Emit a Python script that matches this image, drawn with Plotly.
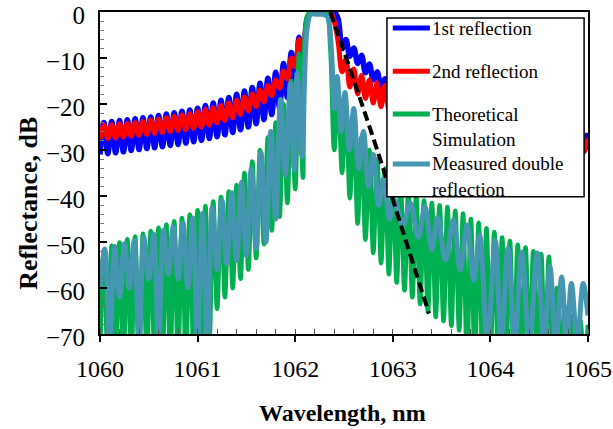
import plotly.graph_objects as go

# ---------------- data ----------------
# common wavelength sampling of the 1st / 2nd reflection and the simulation (nm)
wavelength = [
    1060.00, 1060.04, 1060.08, 1060.12, 1060.16, 1060.20, 1060.24, 1060.28, 1060.32, 1060.36,
    1060.40, 1060.44, 1060.48, 1060.52, 1060.56, 1060.60, 1060.64, 1060.68, 1060.72, 1060.76,
    1060.80, 1060.84, 1060.88, 1060.92, 1060.96, 1061.00, 1061.04, 1061.08, 1061.12, 1061.16,
    1061.20, 1061.24, 1061.28, 1061.32, 1061.36, 1061.40, 1061.44, 1061.48, 1061.52, 1061.56,
    1061.60, 1061.64, 1061.68, 1061.72, 1061.76, 1061.80, 1061.84, 1061.88, 1061.92, 1061.96,
    1062.00, 1062.04, 1062.08, 1062.12, 1062.16, 1062.20, 1062.24, 1062.28, 1062.32, 1062.36,
    1062.40, 1062.44, 1062.48, 1062.52, 1062.56, 1062.60, 1062.64, 1062.68, 1062.72, 1062.76,
    1062.80, 1062.84, 1062.88, 1062.92, 1062.96, 1063.00, 1063.04, 1063.08, 1063.12, 1063.16,
    1063.20, 1063.24, 1063.28, 1063.32, 1063.36, 1063.40, 1063.44, 1063.48, 1063.52, 1063.56,
    1063.60, 1063.64, 1063.68, 1063.72, 1063.76, 1063.80, 1063.84, 1063.88, 1063.92, 1063.96,
    1064.00, 1064.04, 1064.08, 1064.12, 1064.16, 1064.20, 1064.24, 1064.28, 1064.32, 1064.36,
    1064.40, 1064.44, 1064.48, 1064.52, 1064.56, 1064.60, 1064.64, 1064.68, 1064.72, 1064.76,
    1064.80, 1064.84, 1064.88, 1064.92, 1064.96, 1065.00,
]

first_reflection = [
    -31.0, -24.0, -30.8, -23.8, -30.6, -23.6, -30.4, -23.4, -30.1, -23.2,
    -29.9, -23.0, -29.7, -22.8, -29.5, -22.5, -29.3, -22.2, -29.0, -21.9,
    -28.8, -21.6, -28.5, -21.3, -28.2, -20.9, -27.9, -20.3, -27.5, -19.8,
    -27.1, -19.2, -26.7, -18.6, -26.2, -17.9, -25.6, -17.2, -25.0, -16.4,
    -24.3, -15.5, -23.4, -14.4, -22.3, -13.1, -20.8, -11.2, -18.6, -8.8,
    -15.6, -5.5, -11.5, -2.0, 0.0, 0.0, 0.0, 0.0, 0.0, 0.0,
    0.0, -1.5, -8.0, -6.0, -9.6, -7.8, -11.2, -9.4, -13.2, -11.3,
    -14.8, -13.0, -16.4, -14.5, -17.6, -15.6, -18.6, -16.5, -19.5, -17.3,
    -20.3, -18.0, -21.0, -18.6, -21.7, -19.2, -22.3, -19.8, -22.9, -20.3,
    -23.4, -20.8, -23.9, -21.3, -24.4, -21.8, -24.8, -22.2, -25.2, -22.6,
    -25.6, -23.0, -26.0, -23.4, -26.4, -23.8, -26.8, -24.2, -27.1, -24.5,
    -27.4, -24.8, -27.7, -25.1, -28.0, -25.4, -28.3, -25.7, -28.6, -25.9,
    -28.8, -26.1, -29.0, -26.3, -29.3, -26.3,
]

second_reflection = [
    -27.6, -24.6, -27.5, -24.5, -27.4, -24.3, -27.2, -24.2, -27.0, -24.0,
    -26.8, -23.8, -26.6, -23.5, -26.4, -23.3, -26.2, -23.0, -26.0, -22.7,
    -25.8, -22.4, -25.6, -22.1, -25.3, -21.7, -25.0, -21.2, -24.6, -20.8,
    -24.1, -20.3, -23.6, -19.8, -23.0, -19.2, -22.3, -18.5, -21.5, -17.8,
    -20.6, -17.0, -19.5, -16.0, -18.2, -14.8, -16.6, -12.8, -14.6, -10.0,
    -12.0, -6.0, -8.5, -1.5, 0.0, 0.0, 0.0, 0.0, 0.0, 0.0,
    -2.0, -6.5, -13.0, -10.2, -16.3, -12.4, -17.8, -13.8, -18.8, -14.8,
    -19.8, -15.4, -20.6, -16.0, -21.2, -16.6, -21.8, -17.2, -22.4, -17.8,
    -22.9, -18.4, -23.4, -19.0, -23.9, -19.6, -24.4, -20.2, -24.9, -20.8,
    -25.4, -21.4, -25.8, -22.0, -26.2, -22.5, -26.6, -23.0, -27.0, -23.5,
    -27.4, -24.0, -27.7, -24.4, -28.0, -24.8, -28.3, -25.2, -28.6, -25.6,
    -28.9, -25.9, -29.2, -26.2, -29.4, -26.5, -29.6, -26.8, -29.8, -27.0,
    -30.0, -27.2, -30.2, -27.4, -30.4, -27.5,
]

theoretical_simulation = [
    -76.0, -51.7, -76.0, -50.8, -76.0, -50.1, -76.0, -49.4, -76.0, -48.8,
    -76.0, -48.2, -76.0, -47.6, -76.0, -46.9, -76.0, -46.2, -76.0, -45.5,
    -76.0, -44.8, -76.0, -44.0, -76.0, -43.1, -76.0, -42.2, -72.0, -41.2,
    -64.5, -40.2, -62.0, -39.0, -60.0, -37.6, -58.0, -35.0, -56.0, -32.5,
    -53.5, -30.0, -50.5, -27.3, -47.5, -24.0, -44.5, -20.0, -41.5, -15.0,
    -38.5, -9.0, -36.0, -1.0, 0.0, 0.0, 0.0, 0.0, 0.0, -8.0,
    -30.0, -17.0, -35.0, -20.0, -40.5, -23.5, -46.0, -27.0, -49.5, -30.0,
    -52.4, -32.0, -54.6, -34.0, -57.0, -36.0, -58.8, -37.5, -60.5, -38.8,
    -62.0, -40.0, -63.5, -41.0, -65.2, -41.5, -66.3, -42.0, -67.2, -42.4,
    -68.2, -43.2, -69.2, -43.8, -76.0, -45.0, -76.0, -45.8, -76.0, -47.0,
    -76.0, -47.8, -76.0, -49.0, -76.0, -49.8, -76.0, -50.6, -76.0, -51.2,
    -76.0, -52.0, -76.0, -52.6, -76.0, -53.2, -76.0, -60.0, -76.0, -64.0,
    -76.0, -66.0, -76.0, -67.0, -76.0, -68.0,
]

# measured double reflection has its own wavelength sampling (nm)
measured_wavelength = [
    1060.00, 1060.05, 1060.10, 1060.15, 1060.20, 1060.25, 1060.30, 1060.35, 1060.40, 1060.45,
    1060.50, 1060.55, 1060.60, 1060.65, 1060.70, 1060.75, 1060.80, 1060.85, 1060.90, 1060.95,
    1061.00, 1061.05, 1061.10, 1061.15, 1061.20, 1061.25, 1061.30, 1061.35, 1061.40, 1061.45,
    1061.50, 1061.55, 1061.60, 1061.65, 1061.70, 1061.75, 1061.80, 1061.85, 1061.90, 1061.95,
    1061.99, 1062.02, 1062.07, 1062.12, 1062.16, 1062.22, 1062.28, 1062.33, 1062.37, 1062.40,
    1062.43, 1062.47, 1062.51, 1062.555, 1062.60, 1062.65, 1062.70, 1062.75, 1062.80, 1062.855,
    1062.91, 1062.965, 1063.02, 1063.10, 1063.18, 1063.26, 1063.33, 1063.40, 1063.46, 1063.54,
    1063.62, 1063.69, 1063.76, 1063.83, 1063.89, 1063.97, 1064.05, 1064.11, 1064.18, 1064.25,
    1064.32, 1064.40, 1064.48, 1064.55, 1064.61, 1064.67, 1064.73, 1064.78, 1064.83, 1064.89,
    1064.95, 1065.00,
]

measured_double = [
    -60.0, -51.5, -72.0, -51.0, -62.0, -50.4, -60.0, -49.8, -72.0, -49.0,
    -58.0, -48.3, -72.0, -47.5, -57.0, -46.7, -58.0, -45.8, -60.0, -44.8,
    -72.0, -43.8, -72.0, -42.5, -56.0, -41.0, -54.8, -39.3, -54.0, -37.0,
    -53.0, -34.0, -51.5, -30.5, -50.0, -26.0, -45.0, -19.0, -35.5, -15.5,
    -34.3, -13.3, -31.5, -4.0, -0.5, -0.5, -0.5, -1.0, -8.0, -21.0,
    -14.0, -26.0, -17.5, -30.0, -21.0, -34.0, -26.0, -38.0, -31.0, -42.0,
    -36.0, -45.0, -40.9, -46.5, -41.5, -49.0, -42.3, -51.7, -44.6, -54.0,
    -45.2, -56.1, -46.3, -58.3, -48.5, -72.0, -49.6, -72.0, -51.3, -72.0,
    -52.2, -72.0, -52.4, -72.0, -55.4, -72.0, -57.6, -72.0, -59.0, -72.0,
    -59.0, -66.0,
]

# black dashed guide line
guide_wavelength = [1062.36, 1062.60, 1062.84, 1063.10, 1063.37]
guide_db = [0.0, -14.8, -30.0, -47.5, -65.5]

x_ticks = [1060, 1061, 1062, 1063, 1064, 1065]
y_ticks = [-70, -60, -50, -40, -30, -20, -10, 0]

series_names = ["1st reflection", "2nd reflection", "Theoretical Simulation",
                "Measured double reflection"]
# legend text lines: (text, row) ; rows refer to legend_rows below
legend_lines = [("1st reflection", 0), ("2nd reflection", 1), ("Theoretical", 2),
                ("Simulation", 3), ("Measured double", 4), ("reflection", 5)]
series_colors = ["#0000FF", "#FF0000", "#00B050", "#4596B0"]
series_widths = [5.5, 5, 4.5, 5]

# ---------------- figure ----------------
fig = go.Figure()
xs = [wavelength, wavelength, wavelength, measured_wavelength]
ys = [first_reflection, second_reflection, theoretical_simulation, measured_double]
for name, x, y, c, w in zip(series_names, xs, ys, series_colors, series_widths):
    fig.add_trace(go.Scatter(x=x, y=y, mode="lines", name=name,
                             line=dict(color=c, width=w, shape="spline", smoothing=1.0),
                             showlegend=False))

fig.add_trace(go.Scatter(x=guide_wavelength, y=guide_db, mode="lines", name="guide",
                         line=dict(color="black", width=4, dash="10px,5px", shape="spline"),
                         showlegend=False))

serif = "Liberation Serif"

fig.update_layout(
    template="none",
    width=613, height=429,
    margin=dict(l=100, r=25, t=12, b=95, pad=0),
    paper_bgcolor="white", plot_bgcolor="white",
    font=dict(family=serif, color="black", size=24),
    showlegend=False,
)

fig.update_xaxes(
    range=[1060, 1065], tickmode="array", tickvals=x_ticks,
    ticks="outside", ticklen=6, tickwidth=1.5, tickcolor="black",
    minor=dict(ticks="inside", dtick=0.2, ticklen=5, tickwidth=1, tickcolor="#555", showgrid=False),
    showline=True, linecolor="black", linewidth=2, mirror=True,
    showgrid=False, zeroline=False, automargin=False,
    tickfont=dict(family=serif, size=24, color="black"),
    ticklabelstandoff=6, ticklabeloverflow="allow",
)
fig.update_yaxes(
    range=[-70, 0], tickmode="array", tickvals=y_ticks,
    ticks="inside", ticklen=7, tickwidth=1.5, tickcolor="black",
    minor=dict(ticks="inside", dtick=2, ticklen=4, tickwidth=1, tickcolor="#777", showgrid=False),
    showline=True, linecolor="black", linewidth=2, mirror=True,
    showgrid=False, zeroline=False, automargin=False,
    tickfont=dict(family=serif, size=25, color="black"),
    ticklabelstandoff=8, ticklabelshift=3, ticklabeloverflow="allow",
)

# axis titles
fig.add_annotation(text="<b>Wavelength, nm</b>", xref="paper", yref="paper",
                   x=0.496, y=-0.245, xanchor="center", yanchor="middle",
                   showarrow=False, font=dict(family=serif, size=24, color="black"))
fig.add_annotation(text="<b>Reflectance, dB</b>", xref="paper", yref="paper",
                   x=-0.147, y=0.405, xanchor="center", yanchor="middle", textangle=-90,
                   showarrow=False, font=dict(family=serif, size=26, color="black"))

# legend box (drawn over the curves, like the original)
fig.add_shape(type="rect", xref="paper", yref="paper", x0=0.588, x1=0.992, y0=0.426, y1=0.981,
              line=dict(color="black", width=1.5), fillcolor="white", layer="above")
legend_rows = [0.950, 0.816, 0.683, 0.605, 0.528, 0.450]
sample_rows = [legend_rows[0], legend_rows[1], legend_rows[2], legend_rows[4]]
for c, yrow in zip(series_colors, sample_rows):
    fig.add_shape(type="line", xref="paper", yref="paper", x0=0.600, x1=0.676, y0=yrow, y1=yrow,
                  line=dict(color=c, width=5), layer="above")
for text, row in legend_lines:
    fig.add_annotation(text=text, xref="paper", yref="paper", x=0.680, y=legend_rows[row],
                       xanchor="left", yanchor="middle", align="left",
                       showarrow=False, borderpad=0, borderwidth=0,
                       font=dict(family=serif, size=19, color="black"))

# remove the browser's default 8 px page margin so the figure fills the window exactly
fig.write_html("out.html", config={"displayModeBar": False},
               post_script="document.body.style.margin='0px';")
